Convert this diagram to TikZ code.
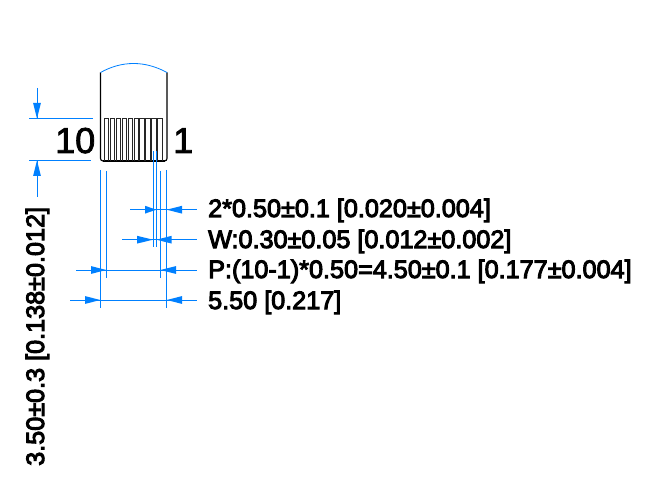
\documentclass[tikz,border=0pt]{standalone}
\usepackage{fontspec}
\setmainfont{Liberation Sans}[UprightFeatures={FakeBold=4}]
\newfontfamily\pinfont{Liberation Sans}[UprightFeatures={FakeBold=2.2}]
\tikzset{
  dimline/.style={draw=dimblue,line width=0.8pt},
  body/.style={draw=black,line width=1.1pt},
  finger/.style={draw=black!85,line width=0.85pt},
  head/.style={fill=dimblue,draw=none},
  dimtext/.style={anchor=base west,inner sep=0pt,font=\fontsize{25.2}{28}\selectfont,text=black},
  pintext/.style={anchor=base west,inner sep=0pt,font=\pinfont\fontsize{36}{40}\selectfont,text=black}
}
\definecolor{dimblue}{RGB}{0,128,255}
\newcommand{\harrow}[3]{\fill[head] (#1,#3) -- (#2,#3-3.9) -- (#2,#3+3.9) -- cycle;}
\newcommand{\varrow}[3]{\fill[head] (#3,#1) -- (#3-3.9,#2) -- (#3+3.9,#2) -- cycle;}
\begin{document}
\begin{tikzpicture}[x=1pt,y=-1pt]
\useasboundingbox (0,0) rectangle (651,484);
% connector body
\draw[body,rounded corners=2.5pt] (100.5,72.5) -- (100.5,161) -- (167,161) -- (167,72.5);
\draw[black,line width=1.8pt] (103,161) -- (164.5,161);
\draw[dimline] (100.5,72.5) .. controls (122,60.5) and (145,60.5) .. (167,72.5);
% fingers
\foreach \i in {0,...,9}{
  \pgfmathsetmacro{\xa}{104.3+5.93*\i}
  \pgfmathsetmacro{\xb}{\xa+4.3}
  \draw[finger] (\xa,161) -- (\xa,118.6) -- (\xb,118.6) -- (\xb,161);
}
% left height dimension
\draw[dimline] (29,118.5) -- (93,118.5);
\draw[dimline] (29,160.5) -- (91,160.5);
\draw[dimline] (37,88) -- (37,118.5);
\draw[dimline] (37,160.5) -- (37,197);
\varrow{118.5}{103}{37}
\varrow{160.5}{176}{37}
% extension lines
\draw[dimline] (100.4,170) -- (100.4,308);
\draw[dimline] (106.3,171) -- (106.3,278);
\draw[dimline] (153,151) -- (153,247);
\draw[dimline] (156.4,151) -- (156.4,247);
\draw[dimline] (160.4,171) -- (160.4,278);
\draw[dimline] (166.7,170) -- (166.7,308);
% horizontal dimensions
\draw[dimline] (130,209.7) -- (197,209.7);
\harrow{156.4}{145}{209.7}
\harrow{166.7}{182}{209.7}
\draw[dimline] (122,239.7) -- (197,239.7);
\harrow{153}{137}{239.7}
\harrow{156.4}{171.7}{239.7}
\draw[dimline] (76,270) -- (197,270);
\harrow{106.3}{91}{270}
\harrow{160.4}{176}{270}
\draw[dimline] (70,300) -- (197,300);
\harrow{100.4}{85}{300}
\harrow{166.7}{182}{300}
% texts
\node[pintext] (p10) at (55,153) {10};
\node[pintext] (p1) at (173,153) {1};
\node[dimtext] (d1) at (208,217) {2*0.50±0.1 [0.020±0.004]};
\node[dimtext] (d2) at (208,248) {W:0.30±0.05 [0.012±0.002]};
\node[dimtext] (d3) at (208,278) {P:(10-1)*0.50=4.50±0.1 [0.177±0.004]};
\node[dimtext] (d4) at (208,309) {5.50 [0.217]};
\node[dimtext,rotate=90] (d5) at (44,466) {3.50±0.3 [0.138±0.012]};
\end{tikzpicture}
\end{document}
